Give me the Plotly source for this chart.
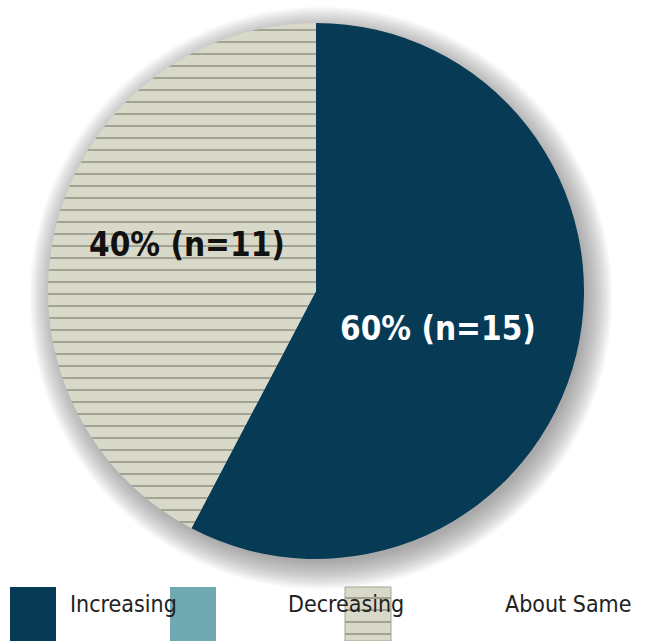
import plotly.graph_objects as go

# Survey response breakdown
categories = ["Increasing", "Decreasing", "About Same"]
counts = [15, 0, 11]
pct_labels = ["60%", "0%", "40%"]

W, H = 645, 641
colors = {"Increasing": "#063a55", "Decreasing": "#70a9b2", "About Same": "#d9d9c9"}
line_grey = "#a3a393"
FONT = "DejaVu Sans Condensed, Liberation Sans Narrow, sans-serif"

# pie geometry in pixels
cx, cy, r = 316, 291, 268

def px_x(x):
    return x / W

def px_y(y):
    return 1 - y / H

fig = go.Figure()
fig.add_trace(go.Pie(
    labels=categories,
    values=counts,
    sort=False,
    direction="clockwise",
    rotation=0,
    textinfo="none",
    hoverinfo="label+value",
    showlegend=False,
    marker=dict(
        colors=[colors[c] for c in categories],
        line=dict(width=0),
        pattern=dict(
            shape=["", "", "-"],
            fgcolor=line_grey,
            bgcolor=[colors[c] for c in categories],
            size=12,
            solidity=0.17,
        ),
    ),
    domain=dict(x=[px_x(cx - r), px_x(cx + r)], y=[px_y(cy + r), px_y(cy - r)]),
))

shapes = []
# soft drop shadow behind the pie
for i in range(22):
    rr = r - 4 + i * 1.3
    ox, oy = 5, 7
    shapes.append(dict(
        type="circle", xref="paper", yref="paper", layer="below",
        x0=px_x(cx + ox - rr), x1=px_x(cx + ox + rr),
        y0=px_y(cy + oy + rr), y1=px_y(cy + oy - rr),
        fillcolor="rgba(110,110,110,0.035)", line=dict(width=0),
    ))

annotations = []
# slice labels
label_pos = {"Increasing": (438, 328, "white"), "About Same": (187, 245, "#111111")}
for cat, n, p in zip(categories, counts, pct_labels):
    if cat in label_pos:
        x, y, col = label_pos[cat]
        annotations.append(dict(
            x=px_x(x), y=px_y(y), xref="paper", yref="paper",
            text=f"<b>{p} (n={n})</b>", showarrow=False,
            font=dict(family=FONT, size=33, color=col),
            xanchor="center", yanchor="middle",
        ))

# custom legend with swatches
legend_items = [(10, 68), (170, 286), (345, 503)]
for cat, (sx, tx) in zip(categories, legend_items):
    shapes.append(dict(
        type="rect", xref="paper", yref="paper",
        x0=px_x(sx), x1=px_x(sx + 46), y0=px_y(641), y1=px_y(587),
        fillcolor=colors[cat], line=dict(width=0),
    ))
    if cat == "About Same":
        shapes.append(dict(
            type="rect", xref="paper", yref="paper",
            x0=px_x(sx), x1=px_x(sx + 46), y0=px_y(641), y1=px_y(587),
            fillcolor="rgba(0,0,0,0)", line=dict(width=1, color=line_grey),
        ))
        for ly in range(598, 641, 12):
            shapes.append(dict(
                type="line", xref="paper", yref="paper",
                x0=px_x(sx), x1=px_x(sx + 46), y0=px_y(ly), y1=px_y(ly),
                line=dict(width=2, color=line_grey),
            ))
    annotations.append(dict(
        x=px_x(tx), y=px_y(604), xref="paper", yref="paper",
        text=cat, showarrow=False, xanchor="left", yanchor="middle",
        font=dict(family=FONT, size=23, color="#222222"),
    ))

fig.update_layout(
    width=W, height=H,
    margin=dict(l=0, r=0, t=0, b=0),
    paper_bgcolor="white",
    plot_bgcolor="white",
    shapes=shapes,
    annotations=annotations,
)

fig.write_html("out.html")
